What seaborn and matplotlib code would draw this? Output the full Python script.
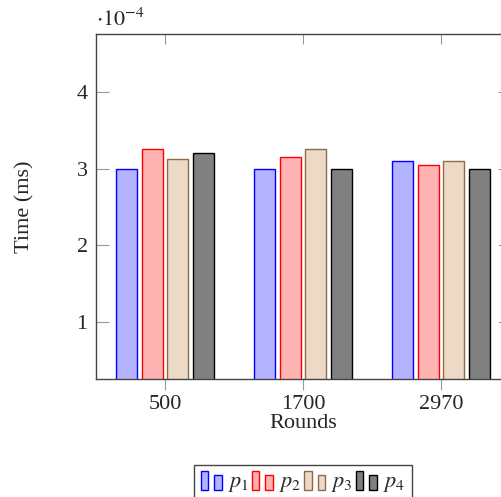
import pandas as pd
import seaborn as sns
import matplotlib
matplotlib.use("Agg")
import matplotlib.pyplot as plt
from matplotlib.patches import Rectangle
from matplotlib.legend_handler import HandlerBase

# ---------------------------------------------------------------
# data (time in units of 1e-4 ms)
# ---------------------------------------------------------------
rounds = ["500", "1700", "2970"]
series = ["p1", "p2", "p3", "p4"]
p1 = [3.00, 3.00, 3.10]
p2 = [3.25, 3.15, 3.05]
p3 = [3.12, 3.25, 3.10]
p4 = [3.20, 3.00, 3.00]
legend_labels = ["$p_1$", "$p_2$", "$p_3$", "$p_4$"]

fills = ["#b3b3ff", "#ffb3b3", "#ecd9c6", "#808080"]
edges = ["#0000ff", "#ff0000", "#8c6b4a", "#000000"]

rows = []
for name, vals in zip(series, [p1, p2, p3, p4]):
    for r, v in zip(rounds, vals):
        rows.append({"Rounds": r, "Time": v, "p": name})
df = pd.DataFrame(rows)

sns.set_style("ticks")
plt.rcParams["font.family"] = ["Liberation Serif", "DejaVu Serif"]
plt.rcParams["mathtext.fontset"] = "stix"
plt.rcParams["font.size"] = 16

fig = plt.figure(figsize=(5.02, 4.97), dpi=100)
ax = fig.add_axes([96 / 502, 1 - 379 / 497, 414 / 502, 345 / 497])

sns.barplot(data=df, x="Rounds", y="Time", hue="p", palette=fills,
            width=0.74, gap=0.17, legend=False, ax=ax, saturation=1)
for cont, ec in zip(ax.containers, edges):
    for bar in cont:
        bar.set_edgecolor(ec)
        bar.set_linewidth(1.0)

ax.set_xlim(-0.5, 2.5)
ax.set_ylim(0.257, 4.756)
ax.set_yticks([1, 2, 3, 4])
ax.set_xlabel("Rounds", labelpad=0)
ax.set_ylabel("Time (ms)", labelpad=30)

for s in ax.spines.values():
    s.set_color("#444444")
    s.set_linewidth(1.0)
    s.set_visible(True)

ax.tick_params(axis="y", direction="in", left=True, right=True, length=9,
               color="#999999", labelsize=16, pad=6)
ax.tick_params(axis="x", direction="out", bottom=True, length=8,
               color="#999999", labelsize=16, pad=3.5)
top = ax.secondary_xaxis("top")
top.set_xticks([0, 1, 2])
top.set_xticklabels([])
top.tick_params(direction="in", length=7, color="#999999")
top.spines["top"].set_visible(False)

fig.text(96 / 502, 1 - 31 / 497, r"$\cdot 10^{-4}$", fontsize=16,
         ha="left", va="bottom")


# legend with the two-bar pgfplots style marker
class TwoBars(HandlerBase):
    def create_artists(self, legend, orig, xd, yd, w, h, fontsize, trans):
        fc, ec = orig.get_facecolor(), orig.get_edgecolor()
        bw = w * 0.36
        r1 = Rectangle((xd, yd - 0.2 * h), bw, h * 1.25, fc=fc, ec=ec,
                       lw=1, transform=trans)
        r2 = Rectangle((xd + w * 0.64, yd - 0.2 * h), bw, h * 1.0, fc=fc,
                       ec=ec, lw=1, transform=trans)
        return [r1, r2]


handles = [Rectangle((0, 0), 1, 1, fc=f, ec=e) for f, e in zip(fills, edges)]
leg = fig.legend(handles, legend_labels, loc="upper center",
                 bbox_to_anchor=(303 / 502, 1 - 465 / 497), ncol=4,
                 handler_map={Rectangle: TwoBars()}, handlelength=0.95,
                 handletextpad=0.28, columnspacing=0.12, borderpad=0.3,
                 borderaxespad=0, fancybox=False, framealpha=1, fontsize=16)
leg.get_frame().set_edgecolor("#444444")
leg.get_frame().set_linewidth(1.0)

fig.savefig("out.png", dpi=100)
